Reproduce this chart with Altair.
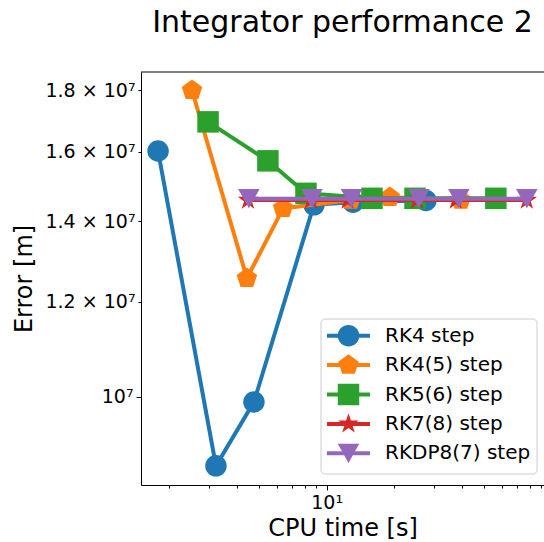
import altair as alt
import pandas as pd

# Integrator benchmark: final position error against CPU time, per stepper
series = ["RK4 step", "RK4(5) step", "RK5(6) step", "RK7(8) step", "RKDP8(7) step"]
colors = ["#1f77b4", "#ff7f0e", "#2ca02c", "#d62728", "#9467bd"]

rk4_time = [1.78, 3.22, 4.75, 8.78, 13.1, 27.6]
rk4_err = [1.602e7, 8.76e6, 9.90e6, 1.445e7, 1.452e7, 1.457e7]

rk45_time = [2.52, 4.42, 6.40, 12.8, 19.1, 39.5]
rk45_err = [1.800e7, 1.255e7, 1.435e7, 1.458e7, 1.466e7, 1.458e7]

rk56_time = [2.97, 5.48, 8.09, 15.9, 24.7, 56.5]
rk56_err = [1.694e7, 1.572e7, 1.477e7, 1.463e7, 1.463e7, 1.463e7]

rk78_time = [4.47, 8.51, 12.4, 25.2, 37.5, 77.6]
rk78_err = [1.458e7, 1.458e7, 1.458e7, 1.458e7, 1.458e7, 1.458e7]

rkdp87_time = [4.51, 8.60, 12.9, 25.7, 38.7, 77.6]
rkdp87_err = [1.462e7, 1.462e7, 1.462e7, 1.462e7, 1.462e7, 1.462e7]

x_ticks = [2, 3, 4, 5, 6, 7, 8, 9, 10, 20, 30, 40, 50, 60, 70, 80, 90]
y_ticks = [1.0e7, 1.2e7, 1.4e7, 1.6e7, 1.8e7]

times = [rk4_time, rk45_time, rk56_time, rk78_time, rkdp87_time]
errors = [rk4_err, rk45_err, rk56_err, rk78_err, rkdp87_err]

rows = []
for name, ts, es in zip(series, times, errors):
    for k, (t, e) in enumerate(zip(ts, es)):
        rows.append({"series": name, "cpu": t, "err": e, "k": k})
df = pd.DataFrame(rows)

# marker shapes (Vega symbol paths live in a [-1, 1] box)
pentagon = "M0,-1L0.9511,-0.309L0.5878,0.809L-0.5878,0.809L-0.9511,-0.309Z"
star = ("M0,-1L0.2245,-0.309L0.9511,-0.309L0.3633,0.118L0.5878,0.809"
        "L0,0.382L-0.5878,0.809L-0.3633,0.118L-0.9511,-0.309L-0.2245,-0.309Z")
tri_down = "M-1,-0.9L1,-0.9L0,0.9Z"
shapes = ["circle", pentagon, "square", star, tri_down]
MS = 462

W, H = 403, 413
FONT = "DejaVu Sans"

common_axis = dict(
    grid=False,
    labelFontSize=19,
    titleFontSize=24,
    labelFont=FONT,
    titleFont=FONT,
    titleFontWeight="normal",
    labelColor="black",
    titleColor="black",
    domainColor="black",
    domainWidth=1,
    tickColor="black",
    tickWidth=1,
    labelFlush=False,
    labelOverlap=False,
)

x_axis = alt.Axis(
    values=x_ticks,
    labelExpr="datum.value == 10 ? '10¹' : ''",
    tickSize={"condition": {"test": "datum.value == 10", "value": 5}, "value": 3},
    title="CPU time [s]",
    labelPadding=3,
    titlePadding=4,
    **common_axis,
)
y_axis = alt.Axis(
    values=y_ticks,
    labelExpr="datum.value == 1e7 ? '10⁷' : format(datum.value / 1e7, '.1f') + ' × 10⁷'",
    tickSize={"condition": {"test": "datum.value == 1e7", "value": 5}, "value": 3},
    title="Error [m]",
    labelPadding=3,
    titlePadding=8,
    **common_axis,
)

x_enc = alt.X("cpu:Q", scale=alt.Scale(type="log", domain=[1.495, 92.5], nice=False), axis=x_axis)
y_enc = alt.Y("err:Q", scale=alt.Scale(type="log", domain=[8.443e6, 1.864e7], nice=False), axis=y_axis)

layers = []
for i, name in enumerate(series):
    base = alt.Chart(df).transform_filter(alt.datum.series == name)
    layers.append(
        base.mark_line(color=colors[i], strokeWidth=4).encode(x=x_enc, y=y_enc, order="k:Q")
    )
    layers.append(
        base.mark_point(shape=shapes[i], size=MS, filled=True, color=colors[i], opacity=1)
        .encode(x=x_enc, y=y_enc)
    )

# top spine of the axes frame
one = pd.DataFrame({"v": [0]})
layers.append(
    alt.Chart(one).mark_rule(color="black", strokeWidth=1)
    .encode(x=alt.value(0), x2=alt.value(W), y=alt.value(0))
)

# legend box in the lower right of the axes
layers.append(
    alt.Chart(one).mark_rect(fill="white", fillOpacity=0.8, stroke="#cccccc",
                             strokeWidth=1, cornerRadius=4)
    .encode(x=alt.value(180), x2=alt.value(396), y=alt.value(247), y2=alt.value(402))
)
for i, name in enumerate(series):
    ly = 263.7 + i * 29.4
    lab = pd.DataFrame({"label": [name]})
    layers.append(
        alt.Chart(lab).mark_rule(color=colors[i], strokeWidth=4)
        .encode(x=alt.value(186), x2=alt.value(229), y=alt.value(ly))
    )
    layers.append(
        alt.Chart(lab).mark_point(shape=shapes[i], size=MS, filled=True, color=colors[i], opacity=1)
        .encode(x=alt.value(207.5), y=alt.value(ly))
    )
    layers.append(
        alt.Chart(lab).mark_text(align="left", baseline="middle", fontSize=20, font=FONT, color="black")
        .encode(x=alt.value(244), y=alt.value(ly), text="label:N")
    )

chart = (
    alt.layer(*layers)
    .properties(
        width=W,
        height=H,
        background="white",
        title=alt.TitleParams("Integrator performance 2", fontSize=30, font=FONT,
                              fontWeight="normal", color="black", anchor="middle", offset=34),
        autosize=alt.AutoSizeParams(type="none"),
        padding={"left": 141, "top": 72, "right": 0, "bottom": 55},
    )
    .configure_view(stroke=None)
)

chart.save("out.html", embed_options={"renderer": "svg", "actions": False})
